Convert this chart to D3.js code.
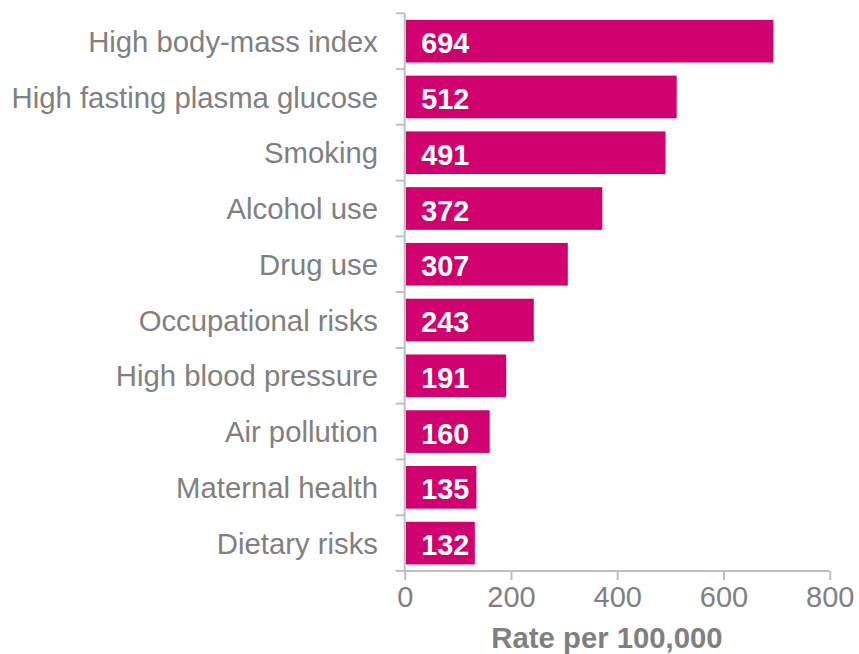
<!DOCTYPE html>
<html>
<head>
<meta charset="utf-8">
<script src="https://cdn.jsdelivr.net/npm/d3@7"></script>
<style>
  body { margin: 0; background: #fff; }
  svg text { font-family: 'Liberation Sans', Arial, sans-serif; }
</style>
</head>
<body>
<div id="chart"></div>
<script>
// data
const categories = [
    'High body-mass index',
    'High fasting plasma glucose',
    'Smoking',
    'Alcohol use',
    'Drug use',
    'Occupational risks',
    'High blood pressure',
    'Air pollution',
    'Maternal health',
    'Dietary risks'
];
const rates = [694, 512, 491, 372, 307, 243, 191, 160, 135, 132];
const xTicks = [0, 200, 400, 600, 800];
const xTitle = 'Rate per 100,000';

const width = 859, height = 654;
const barColor = '#D0006F';
const textColor = '#808080';
const axisColor = '#BFBFBF';
const fontFamily = "'Liberation Sans', Arial, sans-serif";

const data = categories.map((c, i) => ({ name: c, value: rates[i] }));

const svg = d3.select('#chart')
    .append('svg')
    .attr('width', width)
    .attr('height', height);

// scales
const x = d3.scaleLinear()
    .domain([0, 800])
    .range([404.7, 829.7]);

const y = d3.scaleBand()
    .domain(categories)
    .range([13.3, 571])
    .paddingInner(0.235)
    .paddingOuter(0.1175);

// bars
svg.selectAll('rect.bar')
    .data(data)
    .enter()
    .append('rect')
    .attr('class', 'bar')
    .attr('x', x(0) + 1)
    .attr('y', d => y(d.name))
    .attr('width', d => x(d.value) - x(0) - 1)
    .attr('height', y.bandwidth())
    .attr('fill', barColor);

// value labels inside bars
svg.selectAll('text.value')
    .data(data)
    .enter()
    .append('text')
    .attr('class', 'value')
    .attr('x', x(0) + 64.5)
    .attr('y', d => y(d.name) + y.bandwidth() / 2)
    .attr('dy', '0.42em')
    .attr('text-anchor', 'end')
    .attr('fill', '#fff')
    .attr('font-family', fontFamily)
    .attr('font-weight', 'bold')
    .attr('font-size', '28.8px')
    .text(d => d.value);

// y axis: line plus ticks on the band boundaries
const yAxisG = svg.append('g').attr('class', 'y-axis');
const step = y.step();
const y0 = y.range()[0];
yAxisG.append('line')
    .attr('x1', x(0)).attr('x2', x(0))
    .attr('y1', y0).attr('y2', y.range()[1])
    .attr('stroke', axisColor)
    .attr('stroke-width', 2);
yAxisG.selectAll('line.tick')
    .data(d3.range(categories.length + 1))
    .enter()
    .append('line')
    .attr('class', 'tick')
    .attr('x1', x(0) - 9).attr('x2', x(0))
    .attr('y1', i => y0 + i * step)
    .attr('y2', i => y0 + i * step)
    .attr('stroke', axisColor)
    .attr('stroke-width', 2);

// category labels
svg.selectAll('text.cat')
    .data(data)
    .enter()
    .append('text')
    .attr('class', 'cat')
    .attr('x', 378)
    .attr('y', d => y(d.name) + y.bandwidth() / 2)
    .attr('dy', '0.36em')
    .attr('text-anchor', 'end')
    .attr('fill', textColor)
    .attr('font-family', fontFamily)
    .attr('font-size', '29.3px')
    .text(d => d.name);

// x axis
const xAxis = d3.axisBottom(x)
    .tickValues(xTicks)
    .tickSize(9)
    .tickPadding(6.5)
    .tickFormat(d3.format('d'));

const xAxisG = svg.append('g')
    .attr('class', 'x-axis')
    .attr('transform', `translate(0, ${y.range()[1]})`)
    .call(xAxis);

xAxisG.attr('font-family', fontFamily).attr('font-size', 29);
xAxisG.select('.domain')
    .attr('d', `M${x(0) - 9},0H${x(800)}`)
    .attr('stroke', axisColor)
    .attr('stroke-width', 2);
xAxisG.selectAll('.tick line')
    .attr('stroke', axisColor)
    .attr('stroke-width', 2);
xAxisG.selectAll('.tick text')
    .attr('fill', textColor)
    .attr('font-size', '29px')
    .attr('font-family', fontFamily);

// axis title
svg.append('text')
    .attr('x', 607)
    .attr('y', 648)
    .attr('text-anchor', 'middle')
    .attr('fill', textColor)
    .attr('font-family', fontFamily)
    .attr('font-weight', 'bold')
    .attr('font-size', '29.3px')
    .text(xTitle);
</script>
</body>
</html>
